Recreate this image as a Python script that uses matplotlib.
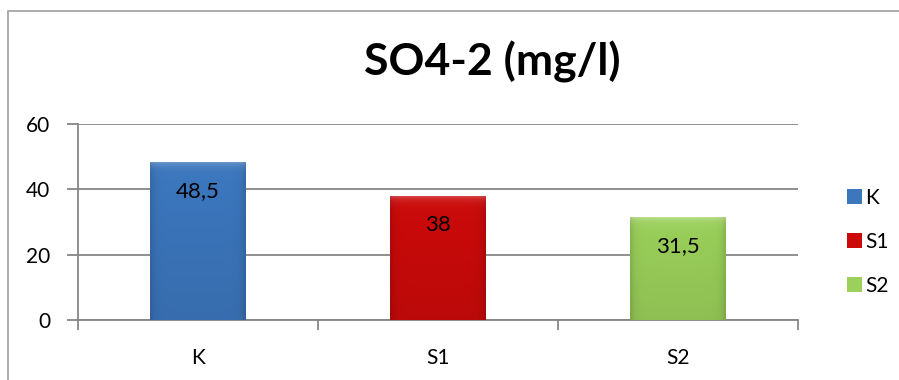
import numpy as np
import matplotlib
matplotlib.use("Agg")
import matplotlib.pyplot as plt
from matplotlib.lines import Line2D
from matplotlib.colors import to_rgb

categories = ["K", "S1", "S2"]
values = [48.5, 38, 31.5]
value_labels = ["48,5", "38", "31,5"]
y_ticks = [0, 20, 40, 60]
bar_colors = ["#3C77BE", "#CC0A0A", "#9BD05A"]

plt.rcParams["font.family"] = ["Lato", "DejaVu Sans"]

W, H = 899, 380
fig = plt.figure(figsize=(W / 100, H / 100), dpi=100)
fig.patch.set_facecolor("white")

# outer chart frame (left and top edges)
fig.add_artist(Line2D([8 / W, 8 / W, 1.0], [0.0, 1 - 11 / H, 1 - 11 / H],
                      transform=fig.transFigure, color="#A6A6A6", lw=1.3))

ax = fig.add_axes([78 / W, 60 / H, 720 / W, 196 / H])
x = np.arange(len(categories))

handles = []
for i, (cat, v, col) in enumerate(zip(categories, values, bar_colors)):
    rect = ax.bar(x[i], v, width=0.40, color=col, edgecolor="none",
                  label=cat, zorder=3)[0]
    handles.append(rect)
    # soft bevel shading: bright top rim, slightly darker sides and bottom
    base = np.array(to_rgb(col))
    ny, nx = 200, 60
    yy = np.linspace(1, 0, ny)[:, None]
    xx = np.linspace(0, 1, nx)[None, :]
    edge = np.minimum(xx, 1 - xx)
    shade = 1.0 - 0.08 * (1 - yy) - 0.12 * np.exp(-edge / 0.04)
    img = base[None, None, :] * shade[..., None]
    px_h = v / 60 * 196
    rim = np.exp(-(1 - yy) * px_h / 4.0)
    img = img + (1 - img) * 0.30 * rim[..., None]
    img = np.clip(img, 0, 1)
    x0, w = rect.get_x(), rect.get_width()
    im = ax.imshow(img, extent=[x0, x0 + w, 0, rect.get_height()],
                   aspect="auto", zorder=4, interpolation="bilinear")
    im.set_clip_path(rect)
    ax.text(x[i], v - 9.0, value_labels[i], ha="center", va="center",
            fontsize=16, color="black", zorder=5)

ax.set_xlim(-0.5, 2.5)
ax.set_ylim(0, 60)
ax.set_yticks(y_ticks)
ax.set_xticks(x)
ax.set_xticklabels(categories)
ax.set_xticks([-0.5, 0.5, 1.5, 2.5], minor=True)
ax.tick_params(axis="x", which="major", length=0, pad=20, labelsize=15)
ax.tick_params(axis="x", which="minor", length=7, width=1.3, color="#868686")
ax.tick_params(axis="y", length=8, width=1.3, color="#868686", pad=12,
               labelsize=15)
ax.yaxis.grid(True, color="#868686", lw=1.3, zorder=1)
ax.set_axisbelow(True)
for s in ["top", "right"]:
    ax.spines[s].set_visible(False)
for s in ["left", "bottom"]:
    ax.spines[s].set_color("#868686")
    ax.spines[s].set_linewidth(1.3)

fig.text(492 / W, 1 - 62 / H, "SO4-2 (mg/l)", ha="center", va="center",
         fontsize=32, fontweight="bold")

fig.legend(handles=handles, labels=categories, loc="center left",
           bbox_to_anchor=(837 / W, 1 - 242 / H), frameon=False,
           fontsize=15, handlelength=0.7, handleheight=0.7,
           handletextpad=0.15, labelspacing=1.15, borderpad=0)

fig.savefig("out.png", dpi=100)
